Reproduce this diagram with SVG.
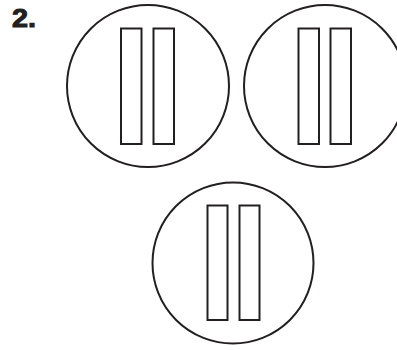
<svg xmlns="http://www.w3.org/2000/svg" width="397" height="350" viewBox="0 0 397 350">
<style>
.c{fill:#fff;stroke:#231f20;stroke-width:2}
.r{fill:#fff;stroke:#231f20;stroke-width:2}
.t{font-family:"Liberation Sans",Arial,sans-serif;font-weight:bold;font-size:25px;fill:#231f20;stroke:#231f20;stroke-width:1}
</style>
<rect width="397" height="350" fill="#fff"/>
<text class="t" x="12" y="26.5" textLength="24" lengthAdjust="spacingAndGlyphs">2.</text>
<g id="circle1">
<circle class="c" cx="148" cy="86" r="81"/>
<rect class="r" x="121" y="28.5" width="20.5" height="115.5"/>
<rect class="r" x="153.5" y="28.5" width="20.5" height="115.5"/>
</g>
<g id="circle2">
<circle class="c" cx="325" cy="86" r="81"/>
<rect class="r" x="298.5" y="28.5" width="20.5" height="115.5"/>
<rect class="r" x="330.5" y="28.5" width="20.5" height="115.5"/>
</g>
<g id="circle3">
<circle class="c" cx="233" cy="263" r="80.5"/>
<rect class="r" x="207.5" y="205.5" width="20" height="114.5"/>
<rect class="r" x="239.5" y="205.5" width="20" height="114.5"/>
</g>
</svg>
